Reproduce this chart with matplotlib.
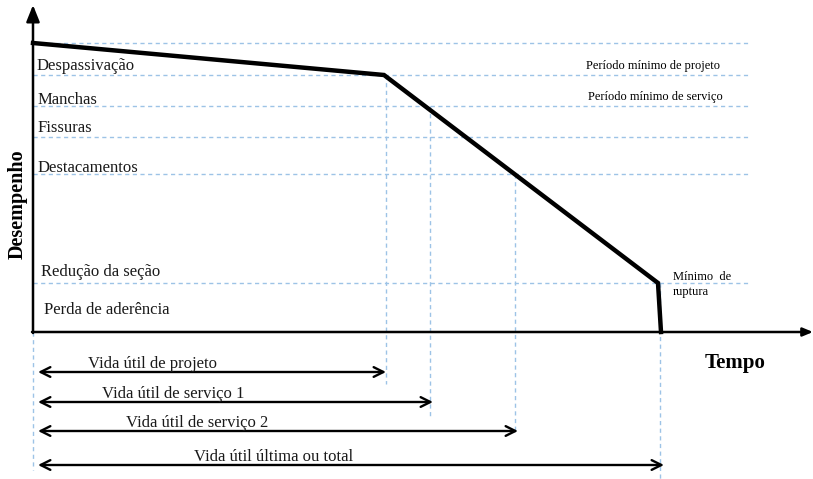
import matplotlib.pyplot as plt

plt.rcParams['font.family'] = ['Liberation Serif', 'DejaVu Serif']

# performance curve (x = time, y = performance, in image units, y grows downward)
curve_t = [33, 384, 658, 661]
curve_p = [43, 75, 283, 332]

# horizontal reference levels and their labels
levels = [43, 75, 106, 137, 174, 283]
level_labels = ["Despassivação", "Manchas", "Fissuras", "Destacamentos",
                "Redução da seção", "Perda de aderência"]
label_y = [66, 100, 128, 168, 272, 310]
label_x = [37, 38, 38, 38, 41, 44]

# vertical markers: x position, top, bottom
vlines_x = [386, 430, 515, 660, 33]
vlines_top = [75, 106, 174, 283, 332]
vlines_bot = [384, 416, 431, 479, 470]

# service-life arrows
life_labels = ["Vida útil de projeto", "Vida útil de serviço 1",
               "Vida útil de serviço 2", "Vida útil última ou total"]
life_end = [386, 433, 518, 664]
life_y = [372, 402, 431, 465]
life_text_x = [152, 173, 197, 274]

fig = plt.figure(figsize=(8.13, 4.79), dpi=100)
ax = fig.add_axes([0, 0, 1, 1])
ax.set_xlim(0, 813)
ax.set_ylim(479, 0)
ax.axis('off')

grid_color = '#9dc3e6'
for y in levels:
    ax.plot([33, 748], [y, y], ls=(0, (3, 2.5)), color=grid_color, lw=1.0, zorder=1)
for x, t, b in zip(vlines_x, vlines_top, vlines_bot):
    ax.plot([x, x], [t, b], ls=(0, (3, 2.5)), color=grid_color, lw=1.0, zorder=1)

# axes with arrows
ax.annotate("", xy=(33, 5), xytext=(33, 333),
            arrowprops=dict(arrowstyle="-|>,head_length=1.0,head_width=0.4",
                            color='black', lw=1.8, shrinkA=0, shrinkB=0))
ax.annotate("", xy=(813, 332), xytext=(32, 332),
            arrowprops=dict(arrowstyle="-|>,head_length=0.6,head_width=0.25",
                            color='black', lw=1.8, shrinkA=0, shrinkB=0))

ax.plot(curve_t, curve_p, color='black', lw=3.2, solid_joinstyle='miter', zorder=3)

for lab, x, y in zip(level_labels, label_x, label_y):
    ax.text(x, y, lab, fontsize=12, ha='left', va='center', color='#1a1a1a')

ax.text(653, 66, "Período mínimo de projeto", fontsize=9, ha='center', va='center')
ax.text(655, 97, "Período mínimo de serviço", fontsize=9, ha='center', va='center')
ax.text(673, 277, "Mínimo  de", fontsize=9, ha='left', va='center')
ax.text(673, 292, "ruptura", fontsize=9, ha='left', va='center')

ax.text(18, 204, "Desempenho", fontsize=14.5, fontweight='bold', rotation=90,
        ha='center', va='center')
ax.text(735, 363, "Tempo", fontsize=15, fontweight='bold', ha='center', va='center')

for lab, x_end, y, tx in zip(life_labels, life_end, life_y, life_text_x):
    ax.annotate("", xy=(x_end, y), xytext=(38, y),
                arrowprops=dict(arrowstyle="<->,head_length=0.7,head_width=0.35",
                                color='black', lw=1.7, shrinkA=0, shrinkB=0))
    ax.text(tx, y - 8, lab, fontsize=12, ha='center', va='center', color='#1a1a1a')

fig.savefig("out.png", dpi=100)
